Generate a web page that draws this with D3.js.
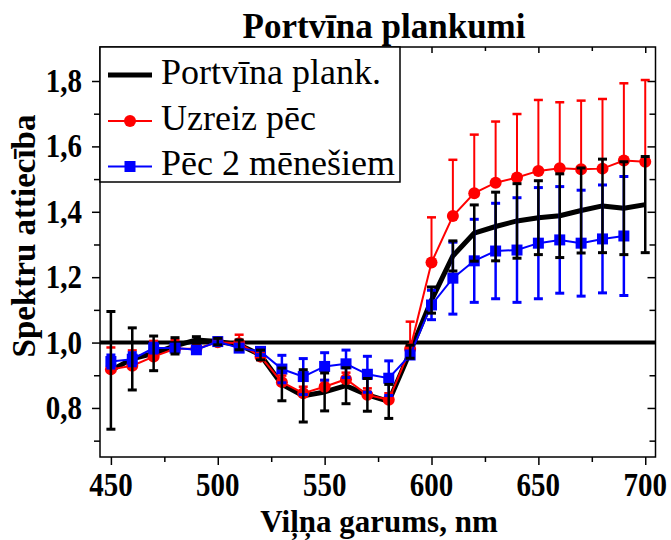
<!DOCTYPE html>
<html><head><meta charset="utf-8">
<script src="https://cdn.jsdelivr.net/npm/d3@7"></script>
<style>
body{margin:0;background:#fff;}
svg text{font-family:"Liberation Serif","Times New Roman",serif;}
</style></head>
<body><svg id="c" width="671" height="540"></svg>
<script>
const wavelengths = [450,460,470,480,490,500,510,520,530,540,550,560,570,580,590,600,610,620,630,640,650,660,670,680,690,700];
const plankValues = [0.915,0.95,0.967,0.99,1.008,1.003,0.993,0.962,0.872,0.837,0.849,0.868,0.84,0.82,0.972,1.13,1.265,1.335,1.355,1.372,1.382,1.388,1.404,1.418,1.411,1.422];
const plankErrors = [0.18,0.095,0.053,0.025,0.01,0.01,0.015,0.015,0.05,0.08,0.058,0.055,0.05,0.052,0.02,0.04,0.046,0.086,0.105,0.114,0.113,0.128,0.13,0.143,0.142,0.147];
const uzreizValues = [0.918,0.929,0.957,0.981,0.981,1.001,0.998,0.957,0.879,0.845,0.865,0.888,0.840,0.825,0.980,1.245,1.387,1.457,1.489,1.505,1.525,1.533,1.530,1.532,1.557,1.553];
const uzreizErrors = [0.067,0.047,0.048,0.027,0.01,0.01,0.026,0.01,0.02,0.02,0.02,0.02,0.02,0.02,0.084,0.138,0.172,0.179,0.187,0.194,0.217,0.202,0.21,0.213,0.236,0.25];
const pecWavelengths = [450,460,470,480,490,500,510,520,530,540,550,560,570,580,590,600,610,620,630,640,650,660,670,680,690];
const pecValues = [0.942,0.949,0.983,0.983,0.978,1.003,0.983,0.973,0.919,0.896,0.927,0.935,0.903,0.891,0.962,1.115,1.197,1.250,1.280,1.283,1.304,1.314,1.304,1.317,1.326];
const pecErrors = [0.02,0.02,0.015,0.01,0.01,0.01,0.01,0.01,0.042,0.055,0.042,0.042,0.055,0.053,0.01,0.045,0.11,0.127,0.146,0.16,0.17,0.163,0.162,0.165,0.182];
const xTickValues = [450,500,550,600,650,700];
const xMinorTicks = [475,525,575,625,675];
const yTickValues = [0.8,1.0,1.2,1.4,1.6,1.8];
const yTickLabels = ["0,8","1,0","1,2","1,4","1,6","1,8"];
const yMinorTicks = [0.7,0.9,1.1,1.3,1.5,1.7];
const seriesNames = ["Portvīna plank.","Uzreiz pēc","Pēc 2 mēnešiem"];
const titleText = "Portvīna plankumi";
const xTitle = "Viļņa garums, nm";
const yTitle = "Spektru attiecība";

const L=100,R=655.5,T=47,B=457;
const x = d3.scaleLinear().domain([444.9,704.8]).range([L,R]);
const y = d3.scaleLinear().domain([0.65,1.904]).range([B,T]);
const svg = d3.select("#c");

function styleAxis(g){g.select(".domain").remove();g.selectAll("text").remove();g.selectAll("line").attr("stroke","#000").attr("stroke-width",1.5);}
svg.append("g").attr("transform",`translate(0,${B})`).call(d3.axisBottom(x).tickValues(xTickValues).tickSize(8)).call(styleAxis);
svg.append("g").attr("transform",`translate(0,${B})`).call(d3.axisBottom(x).tickValues(xMinorTicks).tickSize(5)).call(styleAxis);
svg.append("g").attr("transform",`translate(0,${T})`).call(d3.axisBottom(x).tickValues(xTickValues).tickSize(6)).call(styleAxis);
svg.append("g").attr("transform",`translate(0,${T})`).call(d3.axisBottom(x).tickValues(xMinorTicks).tickSize(4)).call(styleAxis);
svg.append("g").attr("transform",`translate(${L},0)`).call(d3.axisLeft(y).tickValues(yTickValues).tickSize(8)).call(styleAxis);
svg.append("g").attr("transform",`translate(${L},0)`).call(d3.axisLeft(y).tickValues(yMinorTicks).tickSize(6)).call(styleAxis);
svg.append("g").attr("transform",`translate(${R},0)`).call(d3.axisLeft(y).tickValues(yTickValues).tickSize(8)).call(styleAxis);
svg.append("g").attr("transform",`translate(${R},0)`).call(d3.axisLeft(y).tickValues(yMinorTicks).tickSize(6)).call(styleAxis);

xTickValues.forEach(v=>{
  svg.append("text").attr("transform",`translate(${x(v)},496) scale(1,1.15)`).attr("text-anchor","middle")
    .attr("font-size",29).attr("font-weight","bold").text(v);
});
yTickValues.forEach((v,i)=>{
  svg.append("text").attr("transform",`translate(82,${y(v)+11}) scale(1,1.18)`).attr("text-anchor","end")
    .attr("font-size",29).attr("font-weight","bold").text(yTickLabels[i]);
});

svg.append("line").attr("x1",L).attr("x2",R).attr("y1",y(1.0)).attr("y2",y(1.0)).attr("stroke","#000").attr("stroke-width",4);

const plank = wavelengths.map((w,i)=>({w,v:plankValues[i],e:plankErrors[i]}));
const uz = wavelengths.map((w,i)=>({w,v:uzreizValues[i],e:uzreizErrors[i]}));
const pec = pecWavelengths.map((w,i)=>({w,v:pecValues[i],e:pecErrors[i]}));
const line = d3.line().x(d=>x(d.w)).y(d=>y(d.v));

svg.append("path").datum(plank).attr("d",line).attr("fill","none").attr("stroke","#000").attr("stroke-width",5).attr("stroke-linejoin","round");
svg.append("path").datum(uz).attr("d",line).attr("fill","none").attr("stroke","#ff0000").attr("stroke-width",2);
svg.selectAll(".uzc").data(uz).enter().append("circle").attr("cx",d=>x(d.w)).attr("cy",d=>y(d.v)).attr("r",6).attr("fill","#ff0000");
svg.append("path").datum(pec).attr("d",line).attr("fill","none").attr("stroke","#0000ff").attr("stroke-width",2);
svg.selectAll(".pecs").data(pec).enter().append("rect").attr("x",d=>x(d.w)-5.5).attr("y",d=>y(d.v)-5.5).attr("width",11).attr("height",11).attr("fill","#0000ff");

function errBars(data,color,sw,both){
  const g=svg.append("g").attr("stroke",color).attr("stroke-width",sw);
  data.forEach(d=>{
    const cx=x(d.w), top=y(d.v+d.e), bot=both?y(d.v-d.e):y(d.v);
    g.append("line").attr("x1",cx).attr("x2",cx).attr("y1",top).attr("y2",bot);
    g.append("line").attr("x1",cx-4.5).attr("x2",cx+4.5).attr("y1",top).attr("y2",top).attr("stroke-width",sw+0.5);
    if(both) g.append("line").attr("x1",cx-4.5).attr("x2",cx+4.5).attr("y1",bot).attr("y2",bot).attr("stroke-width",sw+0.5);
  });
}
errBars(uz,"#ff0000",2,false);
errBars(pec,"#0000ff",2.5,true);
errBars(plank,"#000",2.5,true);

svg.append("rect").attr("x",L).attr("y",T).attr("width",R-L).attr("height",B-T).attr("fill","none").attr("stroke","#000").attr("stroke-width",1.5);

const lg=svg.append("g");
lg.append("rect").attr("x",L).attr("y",T).attr("width",300).attr("height",135).attr("fill","#fff").attr("stroke","#000").attr("stroke-width",1.5);
const rows=[75,121,166.5];
lg.append("line").attr("x1",108).attr("x2",152).attr("y1",rows[0]).attr("y2",rows[0]).attr("stroke","#000").attr("stroke-width",5);
lg.append("line").attr("x1",108).attr("x2",152).attr("y1",rows[1]).attr("y2",rows[1]).attr("stroke","#ff0000").attr("stroke-width",2);
lg.append("circle").attr("cx",130).attr("cy",rows[1]).attr("r",6).attr("fill","#ff0000");
lg.append("line").attr("x1",108).attr("x2",152).attr("y1",rows[2]).attr("y2",rows[2]).attr("stroke","#0000ff").attr("stroke-width",2);
lg.append("rect").attr("x",124.5).attr("y",rows[2]-5.5).attr("width",11).attr("height",11).attr("fill","#0000ff");
seriesNames.forEach((n,i)=>{
  lg.append("text").attr("x",161).attr("y",rows[i]+8.5).attr("font-size",36).text(n);
});

svg.append("text").attr("x",384).attr("y",38).attr("text-anchor","middle").attr("font-size",35).attr("font-weight","bold").text(titleText);
svg.append("text").attr("x",379).attr("y",532).attr("text-anchor","middle").attr("font-size",31).attr("font-weight","bold").text(xTitle);
svg.append("text").attr("transform","translate(35,236) rotate(-90)").attr("text-anchor","middle").attr("font-size",33).attr("font-weight","bold").text(yTitle);
</script></body></html>
